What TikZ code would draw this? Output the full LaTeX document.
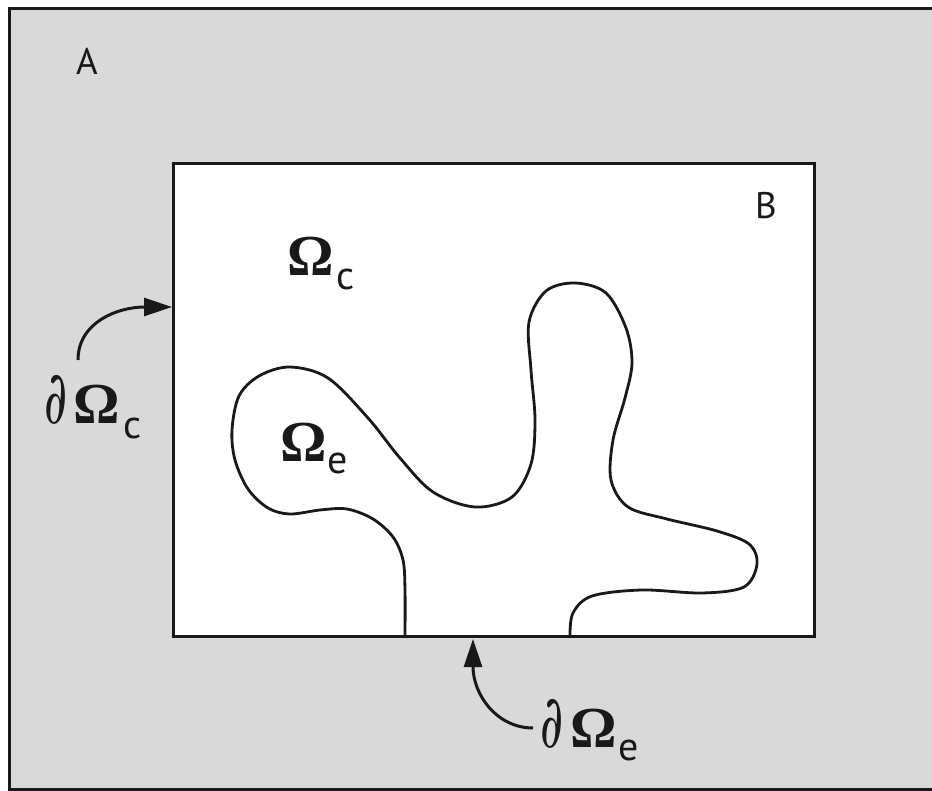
\documentclass[tikz,border=0pt]{standalone}
\usepackage{fontspec}
\setmainfont{Liberation Serif}
\newfontfamily\sansf{PT Sans}
\newfontfamily\ddfont{DejaVu Serif}
\usetikzlibrary{arrows.meta}
\definecolor{bggray}{RGB}{217,217,217}
\definecolor{ink}{RGB}{25,25,25}
\tikzset{
  frame/.style={draw=ink, line width=3pt},
  boundary/.style={draw=ink, line width=2.8pt, line cap=round, line join=round},
  pointer/.style={draw=ink, line width=3pt, -{Triangle[length=28pt,width=18pt]}},
  lbl/.style={inner sep=0pt, outer sep=0pt, anchor=base west, text=ink},
  letter/.style={inner sep=0pt, outer sep=0pt, text=ink, font=\sansf\fontsize{37}{37}\selectfont},
}
\newcommand{\bigom}{{\fontsize{58}{58}\selectfont\bfseries Ω}}
\newcommand{\dd}{{\ddfont\resizebox*{23pt}{49pt}{∂}}}
\newcommand{\subs}[2]{\raisebox{-#1pt}{\sansf\fontsize{40}{40}\selectfont #2}}
\begin{document}
\begin{tikzpicture}[x=1pt,y=-1pt]
\useasboundingbox (0,0) rectangle (932,791);
% outer region A
\fill[white] (0,0) rectangle (932,791);
\path[frame, fill=bggray] (9,9) rectangle (945,789);
% inner region B
\path[frame, fill=white] (173,164) rectangle (814,636);
% boundary curve of Omega_e
\draw[boundary] plot[smooth, tension=0.55] coordinates {
 (405,636) (405,590) (403,560) (393,537) (373,519) (347,509) (320,510)
 (290,514) (268,508) (248,489) (235,460) (232,430) (239,396) (259,376)
 (290,367) (328,378) (368,418) (400,458) (433,492) (475,507) (512,497)
 (531,464) (535,420) (531,370) (529,322) (546,291) (575,283) (606,293)
 (626,328) (632,363) (625,398) (613,440) (611,480) (628,507) (667,519)
 (717,531) (749,544) (757,564) (744,587) (702,593) (642,590) (592,596)
 (573,613) (570,636)};
% labels
\node[lbl] (A) at (76,75) {\sansf\fontsize{37}{37}\selectfont A};
\node[letter] (B) at (766,206) {B};
\node[lbl] (omc) at (287,276) {\bigom\kern3pt\subs{14}{c}};
\node[lbl] (ome) at (280,461) {\bigom\kern1pt\subs{13}{e}};
\node[lbl] (domc) at (44,424) {\dd\kern6pt\bigom\kern4pt\subs{15}{c}};
\node[lbl] (dome) at (540,747) {\dd\kern7pt\bigom\kern2pt\subs{13}{e}};
% arrows
\coordinate (cstart) at (78,360);
\coordinate (cend) at (172,307);
\coordinate (estart) at (533,728);
\coordinate (eend) at (473,639);
\draw[pointer] (cstart) .. controls (78,322) and (118,307) .. (cend);
\draw[pointer] (estart) .. controls (497,728) and (473,695) .. (eend);
\end{tikzpicture}
\end{document}
